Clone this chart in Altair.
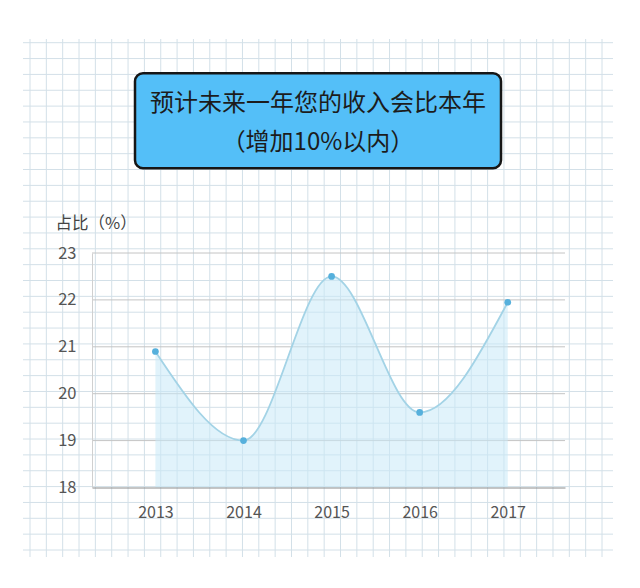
import altair as alt
import pandas as pd

# ---- data ----
years = [2013, 2014, 2015, 2016, 2017]
share = [20.9, 19.0, 22.5, 19.6, 21.95]
y_ticks = [18, 19, 20, 21, 22, 23]
title_lines = ["预计未来一年您的收入会比本年", "（增加10%以内）"]
y_title = "占比（%）"

df = pd.DataFrame({"year": years, "share": share})
ticks_df = pd.DataFrame({"v": y_ticks[1:]})

FONT = "Noto Sans CJK SC"
W, H = 473, 234.5

# ---- graph-paper background (own pixel scales) ----
paper_v = alt.Chart(pd.DataFrame({"i": list(range(36))})).mark_rule(
    color="#d3e0e8", strokeWidth=1
).encode(
    x=alt.X("i:Q", scale=alt.Scale(domain=[0, 35], range=[-62, 510], nice=False, zero=False), axis=None),
    y=alt.value(-214), y2=alt.value(304),
)
paper_h = alt.Chart(pd.DataFrame({"j": list(range(33))})).mark_rule(
    color="#d3e0e8", strokeWidth=1
).encode(
    y=alt.Y("j:Q", scale=alt.Scale(domain=[0, 32], range=[-210.3, 297], nice=False, zero=False), axis=None),
    x=alt.value(-69), x2=alt.value(521),
)

xs = alt.Scale(domain=[2012.28, 2017.65], nice=False, zero=False)
ys = alt.Scale(domain=[18, 23], nice=False, zero=False)

grid = alt.Chart(ticks_df).mark_rule(color="#c4c4c4", strokeWidth=1).encode(
    y=alt.Y("v:Q", scale=ys, axis=None),
    x=alt.value(0), x2=alt.value(W),
)

area = alt.Chart(df).mark_area(
    interpolate="monotone", color="#c8e9f8", opacity=0.55
).encode(
    x=alt.X("year:Q", scale=xs, axis=None),
    y=alt.Y("share:Q", scale=ys, axis=None),
    y2=alt.datum(18),
)

line = alt.Chart(df).mark_line(
    interpolate="monotone", color="#a3d3e6", strokeWidth=1.8
).encode(
    x=alt.X("year:Q", scale=xs, axis=alt.Axis(
        values=years, format="d", grid=False, ticks=False, labelPadding=17,
        labelFontSize=16, labelColor="#555555", labelFont=FONT,
        domainColor="#8c8c8c", domainWidth=1, title=None, zindex=1,
    )),
    y=alt.Y("share:Q", scale=ys, axis=alt.Axis(
        values=y_ticks, grid=False, ticks=False, labelPadding=16,
        labelFontSize=16.5, labelColor="#555555", labelFont=FONT,
        domainColor="#d0d0d0", domainWidth=1, zindex=1,
        title=y_title, titleAngle=0, titleAlign="left", titleBaseline="middle",
        titleX=-37, titleY=-30, titleFont=FONT, titleFontSize=16.5,
        titleFontWeight="normal", titleColor="#444444",
    )),
)

points = alt.Chart(df).mark_circle(size=45, color="#56b0dc", opacity=1).encode(
    x=alt.X("year:Q", scale=xs, axis=None),
    y=alt.Y("share:Q", scale=ys, axis=None),
)

one = alt.Data(values=[{}])
box = alt.Chart(one).mark_rect(
    fill="#54bff8", stroke="#161616", strokeWidth=2.5, cornerRadius=8
).encode(
    x=alt.value(43), x2=alt.value(409), y=alt.value(-179.7), y2=alt.value(-84.7)
)
t1 = alt.Chart(one).mark_text(
    text=title_lines[0], font=FONT, fontSize=24, fontWeight="normal", color="#1c1c1c",
    align="center", baseline="middle",
).encode(x=alt.value(226), y=alt.value(-149))
t2 = alt.Chart(one).mark_text(
    text=title_lines[1], font=FONT, fontSize=24, fontWeight="normal", color="#1c1c1c",
    align="center", baseline="middle",
).encode(x=alt.value(226), y=alt.value(-110))

chart = alt.layer(paper_v, paper_h, grid, area, line, points, box, t1, t2).resolve_scale(
    x="independent", y="independent"
).properties(
    width=W, height=H,
    autosize=alt.AutoSizeParams(type="none"),
    padding={"left": 84, "top": 245, "right": 60, "bottom": 80},
    background="white",
).configure_view(stroke=None)

chart.save("out.html", embed_options={"renderer": "svg", "actions": False})
